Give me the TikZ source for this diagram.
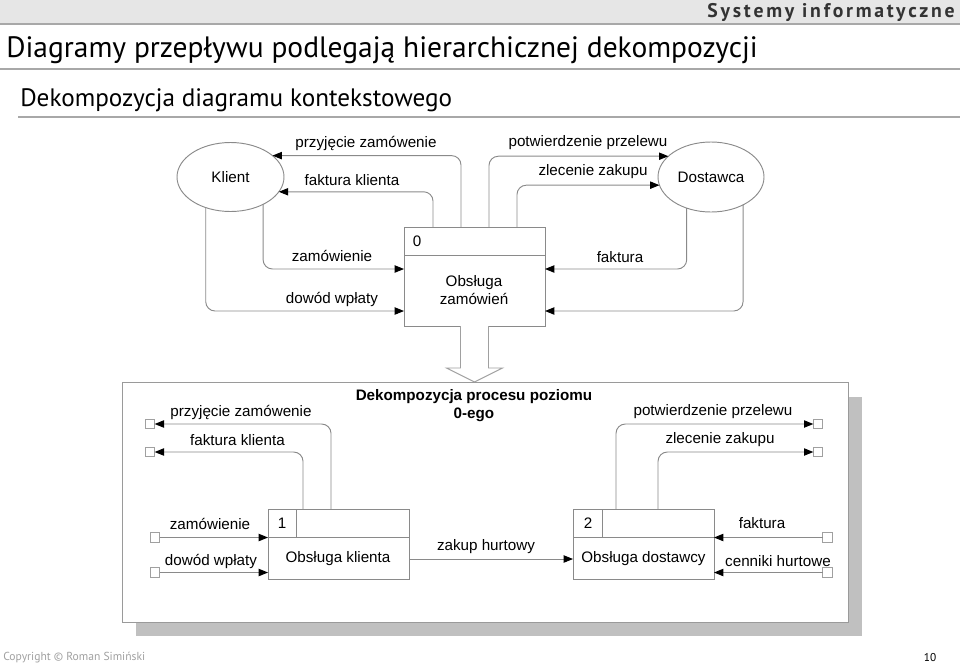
\documentclass[tikz,border=0pt]{standalone}
\usepackage{fontspec}
\setmainfont{Liberation Sans}
\newfontfamily\slidefont{PT Sans}
\newfontfamily\hdrfont[LetterSpace=14]{PT Sans}
\usetikzlibrary{arrows.meta,calc,shapes.geometric}
\definecolor{linec}{HTML}{8A8A8A}
\definecolor{boxc}{HTML}{8A8A8A}
\definecolor{portc}{HTML}{A0A0A0}
\definecolor{framec}{HTML}{9A9A9A}
\definecolor{shadowc}{HTML}{C0C0C0}
\definecolor{hdrbg}{HTML}{E6E6E6}
\definecolor{hdrline}{HTML}{A8A8A8}
\definecolor{hdrtext}{HTML}{333333}
\definecolor{foottext}{HTML}{A0A0A0}
\tikzset{
  lbl/.style={inner sep=0pt, outer sep=0pt, font=\fontsize{11.4}{13.6}\selectfont},
  flow/.style={draw=linec, line width=0.7pt, rounded corners=7pt,
    -{Triangle[length=7pt,width=5.5pt,color=black]}},
  boxline/.style={draw=boxc, line width=0.7pt},
  proc/.style={rectangle, draw=boxc, line width=0.7pt, inner sep=0pt, outer sep=0pt,
    minimum width=105.75pt, minimum height=52.5pt},
  ent/.style={ellipse, draw=boxc, line width=0.7pt, inner sep=0pt, outer sep=0pt,
    font=\fontsize{11.4}{13.6}\selectfont},
  port/.style={rectangle, draw=portc, line width=0.6pt, inner sep=0pt, outer sep=0pt,
    minimum size=7pt}
}
\begin{document}
\begin{tikzpicture}[x=0.75pt,y=-0.75pt]
\useasboundingbox (0,0) rectangle (960,665);
% slide header
\fill[hdrbg] (0,0) rectangle (960,24);
\draw[hdrline, line width=1.2pt] (0,24) -- (960,24);
\node[anchor=east, inner sep=0pt, text=hdrtext, font=\hdrfont\bfseries\fontsize{14.8}{16}\selectfont] (sysinf) at (955,12) {Systemy informatyczne};
\node[anchor=west, inner sep=0pt, font=\slidefont\fontsize{22.1}{26}\selectfont] (title) at (6,50) {Diagramy przepływu podlegają hierarchicznej dekompozycji};
\draw[hdrline, line width=1.5pt] (0,69) -- (960,69);
\node[anchor=west, inner sep=0pt, font=\slidefont\fontsize{18.9}{22}\selectfont] (subtitle) at (20,100) {Dekompozycja diagramu kontekstowego};
\draw[hdrline, line width=1.5pt] (18,117) -- (960,117);

% context diagram
\node[ent, minimum width=80.25pt, minimum height=51.75pt] (klient) at (230.5,177) {Klient};
\node[ent, minimum width=79.5pt, minimum height=52.5pt] (dostawca) at (711,177) {Dostawca};
\node[proc, minimum height=74.25pt] (p0) at (474.5,276.5) {};
\draw[boxline] ($(p0.north west)+(0,28)$) -- ($(p0.north east)+(0,28)$);
\node[lbl] (p0num) at (417,241) {0};
\node[lbl, align=center] (p0txt) at (474,290) {Obsługa\\zamówień};

\draw[flow] ($(p0.north west)+(57,0)$) |- (klient.27);
\draw[flow] ($(p0.north west)+(29,0)$) |- (klient.-17);
\draw[flow] ($(p0.north west)+(85,0)$) |- (dostawca.154);
\draw[flow] ($(p0.north west)+(113,0)$) |- (dostawca.189);
\draw[flow] (klient.-40) |- ($(p0.north west)+(0,42)$);
\draw[flow] (klient.231) |- ($(p0.north west)+(0,84)$);
\draw[flow] (dostawca.232) |- ($(p0.north east)+(0,42)$);
\draw[flow] (dostawca.-41) |- ($(p0.north east)+(0,84)$);

\node[lbl] (l1) at (366,143) {przyjęcie zamówenie};
\node[lbl] (l2) at (352,180) {faktura klienta};
\node[lbl] (l3) at (588,143) {potwierdzenie przelewu};
\node[lbl] (l4) at (593,172) {zlecenie zakupu};
\node[lbl] (l5) at (332,256) {zamówienie};
\node[lbl] (l6) at (332,299) {dowód wpłaty};
\node[lbl] (l7) at (620,257) {faktura};

% decomposition arrow
\draw[draw=portc, fill=white, line width=0.7pt] ($(p0.south)+(-14,0)$) -- ($(p0.south)+(-14,42)$) -- ($(p0.south)+(-28,42)$) -- ($(p0.south)+(0,56)$) -- ($(p0.south)+(28,42)$) -- ($(p0.south)+(14,42)$) -- ($(p0.south)+(14,0)$);

% frame with shadow
\fill[shadowc] (136,397) rectangle (862,636);
\draw[draw=framec, fill=white, line width=0.7pt] (122,382) rectangle (848,622);
\node[lbl, align=center, font=\bfseries\fontsize{11.4}{13.5}\selectfont] (ftitle) at (474,406) {Dekompozycja procesu poziomu\\0-ego};

% level 1 processes
\node[proc] (p1) at (338.5,544) {};
\draw[boxline] ($(p1.north west)+(0,28)$) -- ($(p1.north east)+(0,28)$);
\draw[boxline] ($(p1.north west)+(28,0)$) -- ($(p1.north west)+(28,28)$);
\node[lbl] (p1num) at (282,523) {1};
\node[lbl] (p1txt) at (338,559) {Obsługa klienta};

\node[proc] (p2) at (643.5,544) {};
\draw[boxline] ($(p2.north west)+(0,28)$) -- ($(p2.north east)+(0,28)$);
\draw[boxline] ($(p2.north west)+(29,0)$) -- ($(p2.north west)+(29,28)$);
\node[lbl] (p2num) at (588,523) {2};
\node[lbl] (p2txt) at (643.5,559) {Obsługa dostawcy};

% ports
\node[port] (lp1) at (150,424) {};
\node[port] (lp2) at (150,452) {};
\node[port] (rp1) at (818,424) {};
\node[port] (rp2) at (818,452) {};
\node[port] (lp3) at (155,537.5) {};
\node[port] (lp4) at (155,572.5) {};
\node[port] (rp3) at (827.5,537.5) {};
\node[port] (rp4) at (827.5,572.5) {};

\draw[flow] ($(p1.north west)+(63,0)$) |- (lp1.east);
\draw[flow] ($(p1.north west)+(35,0)$) |- (lp2.east);
\draw[flow] ($(p2.north west)+(43,0)$) |- (rp1.west);
\draw[flow] ($(p2.north west)+(85,0)$) |- (rp2.west);
\draw[flow] (lp3.east) -- (lp3.east -| p1.west);
\draw[flow] (lp4.east) -- (lp4.east -| p1.west);
\draw[flow] (rp3.west) -- (rp3.west -| p2.east);
\draw[flow] (rp4.west) -- (rp4.west -| p2.east);
\draw[flow] ($(p1.east)+(0,15)$) -- ($(p2.west)+(0,15)$);

\node[lbl] (m1) at (241,412) {przyjęcie zamówenie};
\node[lbl] (m2) at (237.5,440) {faktura klienta};
\node[lbl] (m3) at (713,412) {potwierdzenie przelewu};
\node[lbl] (m4) at (720,440) {zlecenie zakupu};
\node[lbl] (m5) at (210,524) {zamówienie};
\node[lbl] (m6) at (211,561) {dowód wpłaty};
\node[lbl] (m7) at (486,547) {zakup hurtowy};
\node[lbl] (m8) at (762,523) {faktura};
\node[lbl] (m9) at (778,561) {cenniki hurtowe};

% footer
\node[anchor=west, inner sep=0pt, text=foottext, font=\slidefont\fontsize{8.7}{10}\selectfont] (copy) at (3,658) {Copyright © Roman Simiński};
\node[inner sep=0pt, font=\slidefont\fontsize{8.5}{10}\selectfont] (pageno) at (930,658) {10};
\end{tikzpicture}
\end{document}
